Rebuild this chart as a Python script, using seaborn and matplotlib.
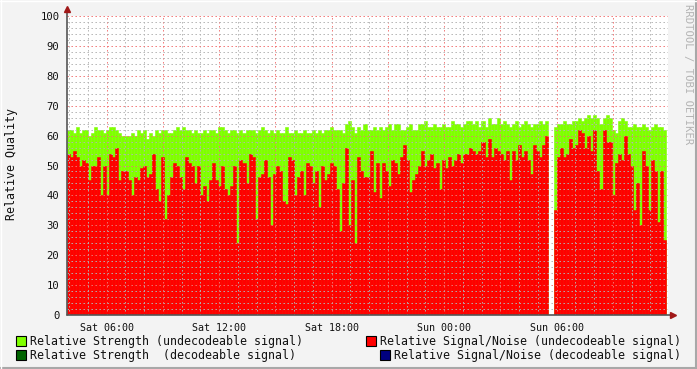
import numpy as np
import pandas as pd
import matplotlib
matplotlib.use("Agg")
import matplotlib.pyplot as plt
import seaborn as sns
from matplotlib.patches import Rectangle
from matplotlib.lines import Line2D
from matplotlib.ticker import MultipleLocator

nan = float("nan")

# Relative Strength (undecodeable signal) - green, one value per sample
strength = [
    62, 62, 61, 63, 61, 62, 62, 60, 61, 63, 62, 62, 61, 62, 63, 63, 62, 61, 60, 60, 60, 61, 60, 62, 61, 62, 59, 61, 60, 62, 61, 62, 62,
    61, 61, 62, 63, 62, 63, 62, 62, 61, 62, 61, 61, 62, 61, 62, 62, 61, 63, 63, 62, 61, 62, 62, 61, 62, 61, 62, 62, 62, 61, 62, 63, 62,
    61, 62, 61, 62, 61, 61, 63, 61, 61, 62, 61, 61, 62, 61, 61, 62, 61, 62, 61, 62, 62, 63, 62, 62, 62, 61, 64, 65, 63, 61, 63, 62, 64,
    62, 62, 63, 62, 63, 62, 63, 64, 62, 64, 64, 62, 62, 63, 64, 62, 62, 64, 64, 65, 63, 63, 64, 63, 63, 64, 63, 63, 65, 64, 64, 63, 64,
    65, 65, 64, 65, 63, 65, 63, 66, 64, 64, 66, 64, 65, 64, 63, 64, 65, 63, 64, 65, 64, 63, 64, 64, 65, 64, 65, nan, nan, 63, 64, 64, 65,
    64, 64, 65, 65, 66, 65, 66, 67, 66, 67, 66, 64, 66, 67, 66, 62, 61, 65, 66, 65, 63, 63, 64, 63, 63, 64, 63, 62, 63, 64, 63, 63, 62,
]

# Relative Signal/Noise (undecodeable signal) - red
snr = [
    54, 53, 55, 53, 50, 52, 51, 45, 50, 50, 53, 40, 50, 40, 54, 53, 56, 45, 48, 48, 45, 40, 46, 45, 49, 50, 46, 47, 54, 42, 38, 53, 32,
    40, 46, 51, 50, 46, 42, 53, 51, 50, 44, 50, 40, 43, 38, 45, 51, 45, 43, 50, 42, 40, 43, 50, 24, 52, 51, 44, 54, 53, 32, 46, 47, 52,
    46, 30, 47, 50, 48, 38, 37, 53, 52, 40, 46, 48, 40, 51, 50, 44, 48, 36, 50, 45, 47, 51, 50, 42, 28, 44, 56, 30, 45, 24, 53, 48, 46,
    46, 55, 41, 51, 39, 51, 48, 43, 52, 51, 47, 53, 57, 52, 41, 45, 47, 50, 55, 50, 52, 54, 49, 51, 42, 52, 49, 53, 50, 52, 54, 51, 54,
    54, 56, 55, 54, 55, 58, 53, 59, 53, 56, 55, 54, 52, 55, 45, 55, 52, 57, 53, 55, 52, 47, 57, 55, 53, 57, 60, nan, nan, 35, 53, 56, 53,
    54, 59, 56, 57, 62, 61, 56, 60, 55, 62, 48, 42, 62, 58, 58, 40, 51, 54, 52, 60, 54, 50, 35, 44, 30, 55, 50, 35, 52, 48, 31, 48, 25,
]

# time axis (hours since Saturday 00:00)
start_hour = 3.893
step_hour = 0.16136
tick_hours = [6, 12, 18, 24, 30]
tick_labels = ["Sat 06:00", "Sat 12:00", "Sat 18:00", "Sun 00:00", "Sun 06:00"]

y_label = "Relative Quality"
watermark = "RRDTOOL / TOBI OETIKER"
legend_labels = [
    "Relative Strength (undecodeable signal)",
    "Relative Strength  (decodeable signal)",
    "Relative Signal/Noise (undecodeable signal)",
    "Relative Signal/Noise (decodeable signal)",
]
legend_colors = ["#7FFF00", "#006400", "#FF0000", "#000080"]

hours = start_hour + step_hour * (np.arange(len(strength)) + 0.5)
df = pd.DataFrame({"hours": hours, "strength": strength, "snr": snr})

W, H = 697, 369
sns.set_theme(style="white")
plt.rcParams["font.family"] = ["DejaVu Sans Mono"]
plt.rcParams["lines.scale_dashes"] = True

fig = plt.figure(figsize=(W / 100, H / 100), dpi=100, facecolor="#F3F3F3")


def fx(px):
    return px / W


def fy(py):
    return 1 - py / H


ax = fig.add_axes([fx(67), fy(315), fx(668) - fx(67), fy(16) - fy(315)])
ax.set_facecolor("white")

sns.barplot(data=df.dropna(), x="hours", y="strength", native_scale=True, color="#7FFF00",
            saturation=1, width=1, errorbar=None, edgecolor="#7FFF00", linewidth=0.4, ax=ax)
sns.barplot(data=df.dropna(), x="hours", y="snr", native_scale=True, color="#FF0000",
            saturation=1, width=1, errorbar=None, edgecolor="#FF0000", linewidth=0.4, ax=ax)

x_end = start_hour + 601 / 18.75
ax.set_xlabel("")
ax.set_ylabel("")

# grid on top of the data like rrdtool
ax.set_axisbelow(False)
ax.xaxis.set_major_locator(MultipleLocator(3))
ax.xaxis.set_minor_locator(MultipleLocator(1))
ax.yaxis.set_major_locator(MultipleLocator(10))
ax.yaxis.set_minor_locator(MultipleLocator(2))
ax.grid(which="minor", color=(0.7, 0.7, 0.7, 0.6), linestyle=(0, (1.4, 2.6)), linewidth=0.72)
ax.grid(which="major", color=(0.95, 0.45, 0.45, 0.6), linestyle=(0, (1.4, 2.6)), linewidth=0.72)

major_x = [h for h in np.arange(3, 37, 3) if start_hour <= h <= x_end]
ax.set_xticks(major_x)
ax.set_xticklabels([tick_labels[tick_hours.index(int(h))] if int(h) in tick_hours else "" for h in major_x])
ax.set_xlim(start_hour, x_end)
ax.set_ylim(0, 100)
ax.set_yticks(range(0, 101, 10))
ax.set_yticklabels([str(v) for v in range(0, 101, 10)])

ax.tick_params(axis="x", which="major", length=3, width=0.8, color="#C04040", direction="out",
               labelsize=7.2, pad=3, labelcolor="#111111")
ax.tick_params(axis="x", which="minor", length=2, width=0.8, color="#999999", direction="out")
ax.tick_params(axis="y", which="major", length=3, width=0.8, color="#555555", direction="out",
               labelsize=7.6, pad=2.5, labelcolor="#111111")
ax.tick_params(axis="y", which="minor", length=0)

for s in ax.spines.values():
    s.set_visible(False)

# axes lines with arrows
axis_col = "#555555"
arrow_col = "#A01818"
ax.add_line(Line2D([0, 0], [0, 1 + 7 / 299], transform=ax.transAxes, color=axis_col, lw=1.2, clip_on=False, zorder=5))
ax.add_line(Line2D([0, 1 + 5 / 601], [0, 0], transform=ax.transAxes, color=axis_col, lw=1.2, clip_on=False, zorder=5))
ax.plot([0], [1 + 7 / 299], marker="^", markersize=4, color=arrow_col, transform=ax.transAxes, clip_on=False, zorder=6)
ax.plot([1 + 5 / 601], [0], marker=">", markersize=4, color=arrow_col, transform=ax.transAxes, clip_on=False, zorder=6)

# y axis label
fig.text(fx(12), fy(164), y_label, rotation=90, ha="center", va="center", fontsize=8.4, color="#111111")

# watermark
fig.text(fx(688), fy(4), watermark, rotation=270, ha="center", va="top", fontsize=7.6, color="#B4B4B4")

# legend
leg_pos = [(16, 336, 30), (16, 350, 30), (366, 336, 380), (380, 350, 394)]
for (sx, sy, tx), lab, col in zip(leg_pos, legend_labels, legend_colors):
    fig.patches.append(Rectangle((fx(sx), fy(sy + 10)), 10 / W, 10 / H, transform=fig.transFigure,
                                 facecolor=col, edgecolor="black", linewidth=0.8))
    fig.text(fx(tx), fy(sy + 5), lab, ha="left", va="center", fontsize=8.4, color="#111111")

# figure border
fig.lines.append(Line2D([0, 1], [fy(367.5), fy(367.5)], transform=fig.transFigure, color="#A8A8A8", lw=1.5))
fig.lines.append(Line2D([fx(695.5), fx(695.5)], [0, 1], transform=fig.transFigure, color="#A8A8A8", lw=1.5))
fig.lines.append(Line2D([0, 1], [fy(0.5), fy(0.5)], transform=fig.transFigure, color="#FFFFFF", lw=1))
fig.lines.append(Line2D([fx(0.5), fx(0.5)], [0, 1], transform=fig.transFigure, color="#FFFFFF", lw=1))

fig.savefig("out.png", dpi=100, facecolor=fig.get_facecolor())
